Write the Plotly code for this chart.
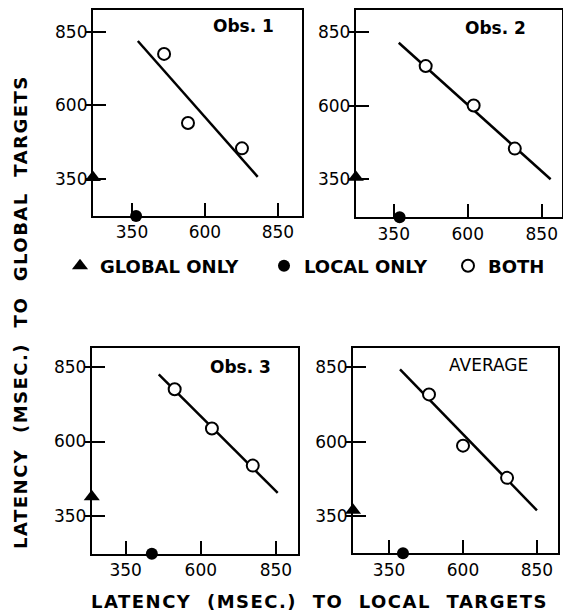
import plotly.graph_objects as go

# ---------------- data ----------------
panels = ["Obs. 1", "Obs. 2", "Obs. 3", "AVERAGE"]
both_x = [[460, 542, 727], [458, 620, 759], [513, 637, 773], [485, 600, 749]]
both_y = [[775, 540, 454], [734, 600, 454], [776, 644, 519], [759, 587, 479]]
fit_x = [[370, 781], [367, 880], [460, 856], [387, 850]]
fit_y = [[819, 357], [813, 350], [826, 427], [843, 370]]
global_only = [355, 357, 414, 370]   # latency to global targets (global-only condition)
local_only = [364, 370, 437, 397]    # latency to local targets (local-only condition)
tick_vals = [350, 600, 850]
tick_text = ["350", "600", "850"]

# ---------------- layout helpers ----------------
x_ranges = [[216, 932], [222, 918], [237, 923], [228, 921]]
y_ranges = [[224, 925], [221, 925], [222, 914], [226, 914]]
x_domains = [[0.165, 0.536], [0.632, 0.998], [0.163, 0.529], [0.627, 0.991]]
y_domains = [[0.647, 0.984], [0.645, 0.984], [0.095, 0.431], [0.096, 0.431]]
title_pos = [(0.72, 0.92), (0.68, 0.91), (0.72, 0.91), (0.66, 0.92)]
legend_x = [60 / 563, 264 / 563, 448 / 563]

FONT = "DejaVu Sans"
fig = go.Figure()

for i in range(4):
    xa = "x" if i == 0 else f"x{i+1}"
    ya = "y" if i == 0 else f"y{i+1}"
    show = i == 0
    # fitted line
    fig.add_trace(go.Scatter(x=fit_x[i], y=fit_y[i], mode="lines",
                             line=dict(color="black", width=2.5),
                             xaxis=xa, yaxis=ya, showlegend=False, hoverinfo="skip"))
    # global only (on the y axis)
    fig.add_trace(go.Scatter(x=[x_ranges[i][0]], y=[global_only[i]], mode="markers",
                             marker=dict(symbol="triangle-up", size=14, color="black"),
                             name="GLOBAL ONLY", legend="legend", cliponaxis=False,
                             xaxis=xa, yaxis=ya, showlegend=show))
    # local only (on the x axis)
    fig.add_trace(go.Scatter(x=[local_only[i]], y=[y_ranges[i][0]], mode="markers",
                             marker=dict(symbol="circle", size=12, color="black"),
                             name="LOCAL ONLY", legend="legend2", cliponaxis=False,
                             xaxis=xa, yaxis=ya, showlegend=show))
    # both
    fig.add_trace(go.Scatter(x=both_x[i], y=both_y[i], mode="markers",
                             marker=dict(symbol="circle", size=12, color="white",
                                         line=dict(color="black", width=2)),
                             name="BOTH", legend="legend3", cliponaxis=False,
                             xaxis=xa, yaxis=ya, showlegend=show))

    axis_common = dict(showline=True, linecolor="black", linewidth=2, mirror=True,
                       ticks="inside", ticklen=13, tickwidth=2, tickcolor="black",
                       tickvals=tick_vals, ticktext=tick_text, showgrid=False,
                       zeroline=False, tickfont=dict(family=FONT, size=17, color="black"))
    xkey = "xaxis" if i == 0 else f"xaxis{i+1}"
    ykey = "yaxis" if i == 0 else f"yaxis{i+1}"
    fig.update_layout({
        xkey: dict(axis_common, domain=x_domains[i], range=x_ranges[i], anchor=ya),
        ykey: dict(axis_common, domain=y_domains[i], range=y_ranges[i], anchor=xa,
                   minor=dict(ticks="outside", tickvals=tick_vals, ticklen=5,
                              tickwidth=2, tickcolor="black", showgrid=False)),
    })
    fig.add_annotation(text=panels[i], xref=f"{xa} domain", yref=f"{ya} domain",
                       x=title_pos[i][0], y=title_pos[i][1], showarrow=False,
                       xanchor="center", yanchor="middle",
                       font=dict(family=FONT, size=17, color="black",
                                 weight=("bold" if i < 3 else "normal")))

# axis titles
SP = '<span style="letter-spacing:1.5px">{}</span>'
fig.add_annotation(text=SP.format("LATENCY  (MSEC.)  TO  LOCAL  TARGETS"), xref="paper", yref="paper",
                   x=0.567, y=1 - 601 / 612, showarrow=False, xanchor="center", yanchor="middle",
                   font=dict(family=FONT, size=18, color="black", weight="bold"))
fig.add_annotation(text=SP.format("LATENCY  (MSEC.)  TO  GLOBAL  TARGETS"), xref="paper", yref="paper",
                   x=20 / 563, y=1 - 312 / 612, showarrow=False, textangle=-90,
                   xanchor="center", yanchor="middle",
                   font=dict(family=FONT, size=18, color="black", weight="bold"))

legend_common = dict(orientation="h", y=1 - 266 / 612, xanchor="left", yanchor="middle",
                     font=dict(family=FONT, size=18, color="black", weight="bold"),
                     bgcolor="rgba(0,0,0,0)", itemclick=False, itemdoubleclick=False)
fig.update_layout(
    width=563, height=612,
    margin=dict(l=0, r=0, t=0, b=0),
    paper_bgcolor="white", plot_bgcolor="white",
    legend=dict(legend_common, x=legend_x[0]),
    legend2=dict(legend_common, x=legend_x[1]),
    legend3=dict(legend_common, x=legend_x[2]),
)

fig.write_html("out.html", config={"displayModeBar": False},
               post_script="document.body.style.margin='0px';")
